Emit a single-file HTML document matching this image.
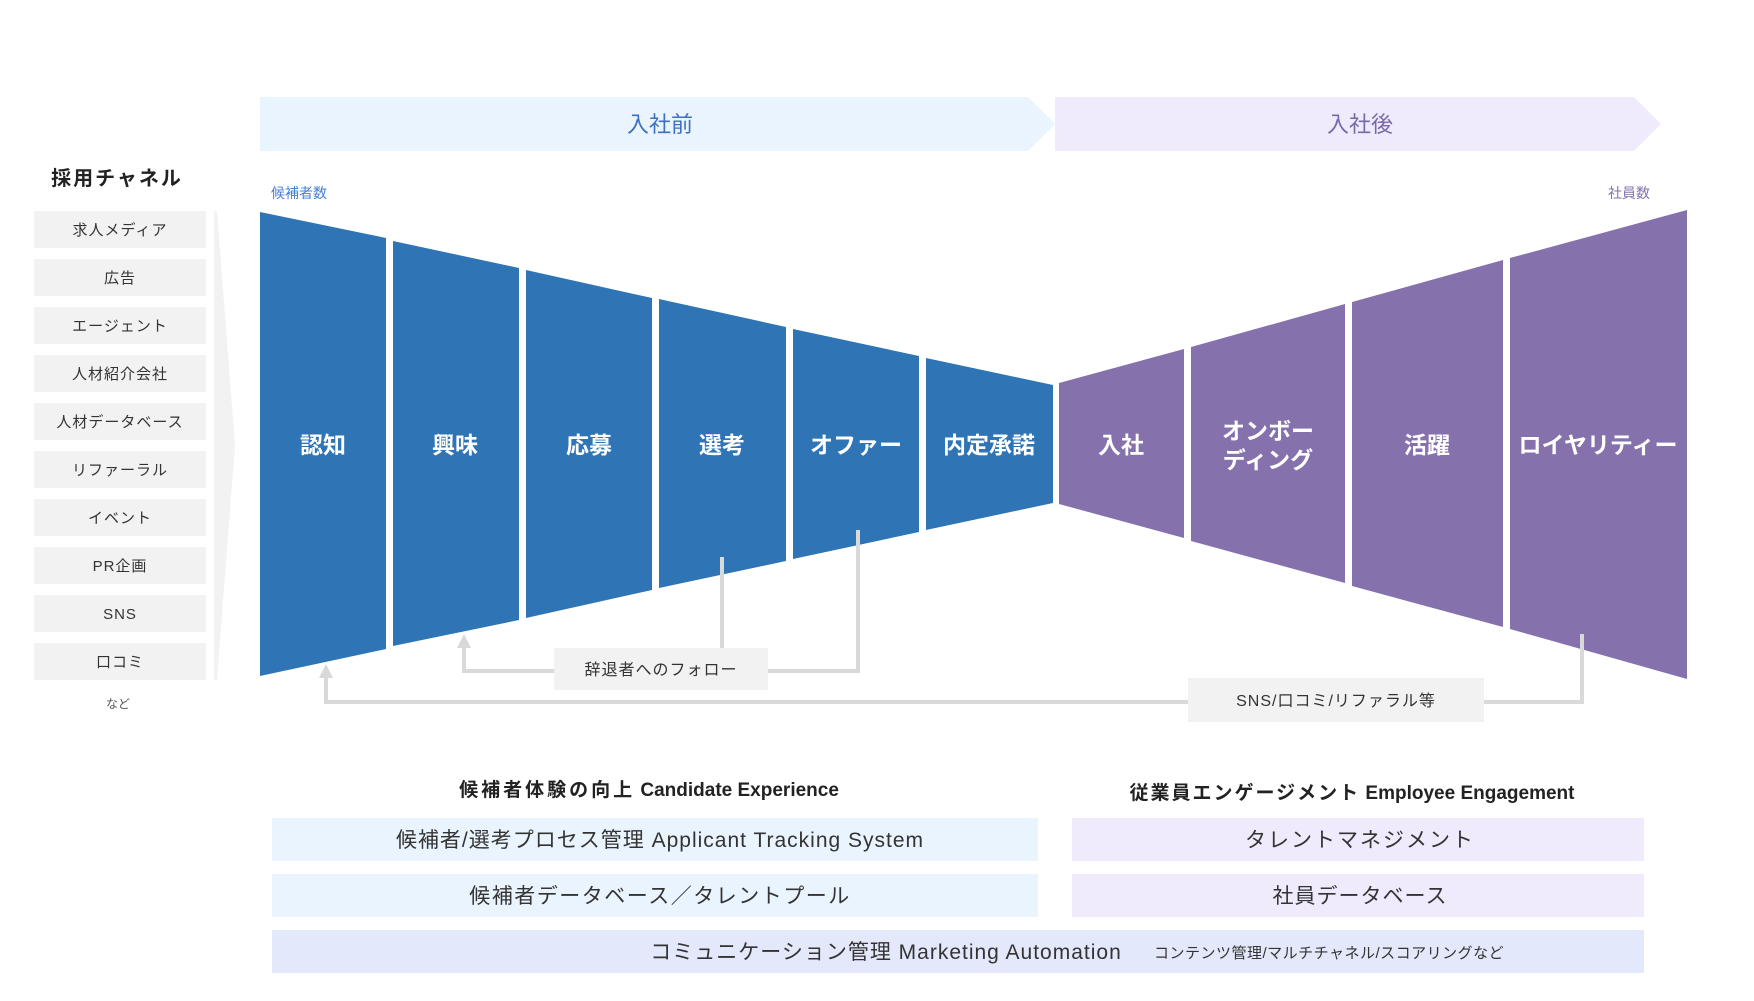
<!DOCTYPE html>
<html><head><meta charset="utf-8"><style>
html,body{margin:0;padding:0;background:#fff;}
body{width:1754px;height:1001px;position:relative;overflow:hidden;font-family:"Liberation Sans","Noto Sans CJK JP",sans-serif;}
svg{position:absolute;left:0;top:0;}
</style></head><body>
<svg width="1754" height="1001" viewBox="0 0 1754 1001" xmlns="http://www.w3.org/2000/svg" font-family="Liberation Sans, Noto Sans CJK JP, sans-serif">
<polygon points="260,97 1028,97 1055,124 1028,151 260,151" fill="#eaf4fe"/>
<polygon points="1055,97 1634,97 1661,124 1634,151 1055,151" fill="#efebfc"/>
<text x="660" y="132" font-size="22" fill="#3f6fc0" text-anchor="middle">入社前</text>
<text x="1360" y="132" font-size="22" fill="#7a69a8" text-anchor="middle">入社後</text>
<text x="117" y="185" font-size="20" font-weight="bold" fill="#222" text-anchor="middle" letter-spacing="2">採用チャネル</text>
<g fill="#f2f2f2">
<rect x="34" y="211" width="172" height="37"/><rect x="34" y="259" width="172" height="37"/>
<rect x="34" y="307" width="172" height="37"/><rect x="34" y="355" width="172" height="37"/>
<rect x="34" y="403" width="172" height="37"/><rect x="34" y="451" width="172" height="37"/>
<rect x="34" y="499" width="172" height="37"/><rect x="34" y="547" width="172" height="37"/>
<rect x="34" y="595" width="172" height="37"/><rect x="34" y="643" width="172" height="37"/>
</g>
<g font-size="15" fill="#333" text-anchor="middle" letter-spacing="1">
<text x="120" y="235">求人メディア</text><text x="120" y="283">広告</text>
<text x="120" y="331">エージェント</text><text x="120" y="379">人材紹介会社</text>
<text x="120" y="427">人材データベース</text><text x="120" y="475">リファーラル</text>
<text x="120" y="523">イベント</text><text x="120" y="571">PR企画</text>
<text x="120" y="619">SNS</text><text x="120" y="667">口コミ</text>
</g>
<text x="118" y="708" font-size="12" fill="#555" text-anchor="middle">など</text>
<polygon points="214,211 217,211 235,445 217,680 214,680" fill="#f2f2f2"/>
<text x="271" y="198" font-size="14" fill="#4a7fd0">候補者数</text>
<text x="1650" y="198" font-size="14" fill="#8572ad" text-anchor="end">社員数</text>
<g fill="#2f75b5">
<polygon points="260,212 386,238 386,649 260,676"/>
<polygon points="393,241 519,268 519,620 393,646"/>
<polygon points="526,270 652,298 652,590 526,618"/>
<polygon points="659,299 786,327 786,561 659,588"/>
<polygon points="793,329 919,356 919,532 793,559"/>
<polygon points="926,358 1053,385 1053,503 926,530"/>
</g>
<g fill="#8572ad">
<polygon points="1059,383 1184,349 1184,538 1059,504"/>
<polygon points="1191,347 1345,304 1345,583 1191,541"/>
<polygon points="1352,302 1503,260 1503,627 1352,586"/>
<polygon points="1510,258 1687,210 1687,679 1510,629"/>
</g>
<g font-size="23" font-weight="bold" fill="#fff" text-anchor="middle">
<text x="323" y="453">認知</text><text x="455" y="453">興味</text>
<text x="589" y="453">応募</text><text x="722" y="453">選考</text>
<text x="856" y="453">オファー</text><text x="989" y="453">内定承諾</text>
<text x="1121" y="453">入社</text>
<text x="1268" y="439">オンボー</text><text x="1268" y="468">ディング</text>
<text x="1427" y="453">活躍</text><text x="1598" y="453">ロイヤリティー</text>
</g>
<g stroke="#d9d9d9" stroke-width="4" fill="none">
<polyline points="722,557 722,648"/>
<polyline points="858,530 858,671 768,671"/>
<polyline points="554,671 464,671 464,648"/>
<polyline points="1582,634 1582,702 1484,702"/>
<polyline points="1188,702 326,702 326,678"/>
</g>
<polygon points="464,634 457,648 471,648" fill="#d9d9d9"/>
<polygon points="326,664 319,678 333,678" fill="#d9d9d9"/>
<rect x="554" y="648" width="214" height="42" fill="#f2f2f2"/>
<text x="661" y="675" font-size="16" fill="#333" text-anchor="middle" letter-spacing="1">辞退者へのフォロー</text>
<rect x="1188" y="678" width="296" height="44" fill="#f2f2f2"/>
<text x="1336" y="706" font-size="16" fill="#333" text-anchor="middle" letter-spacing="1">SNS/口コミ/リファラル等</text>
<text x="649" y="796" font-size="19" font-weight="bold" fill="#222" text-anchor="middle"><tspan letter-spacing="3">候補者体験の向上</tspan><tspan>  Candidate Experience</tspan></text>
<text x="1352" y="799" font-size="19" font-weight="bold" fill="#222" text-anchor="middle"><tspan letter-spacing="2">従業員エンゲージメント</tspan><tspan>   Employee Engagement</tspan></text>
<rect x="272" y="818" width="766" height="43" fill="#eaf4fe"/>
<rect x="272" y="874" width="766" height="43" fill="#eaf4fe"/>
<rect x="1072" y="818" width="572" height="43" fill="#efebfc"/>
<rect x="1072" y="874" width="572" height="43" fill="#efebfc"/>
<rect x="272" y="930" width="1372" height="43" fill="#e3e9fb"/>
<g font-size="21" fill="#333" text-anchor="middle">
<text x="660" y="847" letter-spacing="1">候補者/選考プロセス管理  Applicant Tracking System</text>
<text x="660" y="903" letter-spacing="1.5">候補者データベース／タレントプール</text>
<text x="1360" y="847" letter-spacing="2">タレントマネジメント</text>
<text x="1360" y="903" letter-spacing="1">社員データベース</text>
<text x="886" y="959" letter-spacing="1">コミュニケーション管理  Marketing Automation</text>
</g>
<text x="1154" y="958" font-size="15" fill="#333" letter-spacing="0.5">コンテンツ管理/マルチチャネル/スコアリングなど</text>
</svg>
</body></html>
